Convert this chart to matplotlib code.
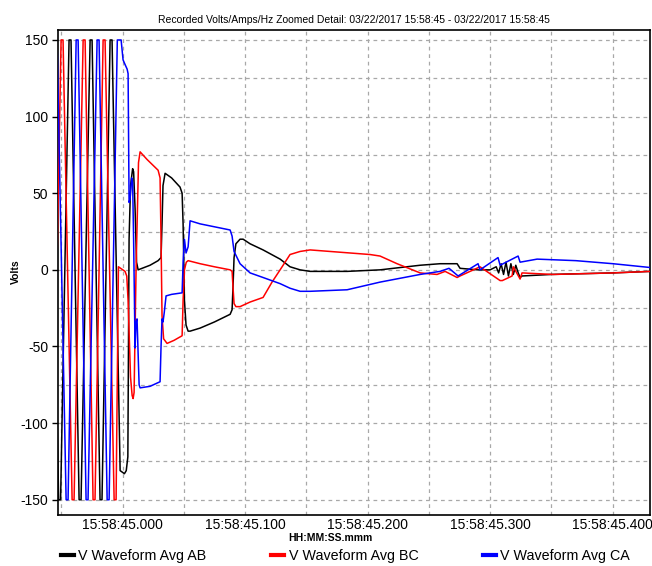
import numpy as np
import matplotlib.pyplot as plt
from matplotlib.lines import Line2D
from matplotlib.ticker import MultipleLocator

# =========================
# Data (time in ms after 15:58:45.000, volts)
# =========================
title = "Recorded Volts/Amps/Hz Zoomed Detail: 03/22/2017 15:58:45 - 03/22/2017 15:58:45"
series_names = ["V Waveform Avg AB", "V Waveform Avg BC", "V Waveform Avg CA"]
tick_ms = [0, 100, 200, 300, 400]
tick_labels = ["15:58:45.000", "15:58:45.100", "15:58:45.200", "15:58:45.300", "15:58:45.400"]

t_ab = [-60.6, -59.4, -52.2, -50.6, -43.7, -42.1, -35.5, -33.9, -26.5, -24.9,
        -18.4, -16.8, -10.2, -8.6, -2.0, 1.5, 3.0, 4.3, 5.3, 6.5, 8.2, 9.0,
        10.2, 11.4, 12.7, 14.3, 22.4, 29.0, 31.4, 32.2, 33.0, 34.7, 40.0, 46.9,
        48.6, 49.4, 50.5, 51.8, 53.5, 55.1, 63.3, 75.0, 87.8, 89.4, 90.2, 91.0,
        92.5, 95.9, 98.4, 104.1, 114.7, 128.6, 136.7, 144.9, 153.1, 183.3, 210.2,
        242.9, 259.2, 273.1, 275.5, 290.0, 300.0, 305.0, 307.0, 309.0, 311.0,
        313.0, 315.0, 317.0, 319.0, 321.0, 323.0, 324.5, 326.1, 350.0, 400.0, 431.0]
v_ab = [150, 150, -150, -150, 150, 150, -150, -150, 150, 150,
        -150, -150, 150, 150, -131, -133, -131, -122, 20, 55, 66, 64,
        40, 5, 0, 0.5, 3, 6, 8, 30, 55, 63, 60, 54,
        50, 30, -20, -36, -40, -40, -38, -34, -29, -26, -10, 8,
        17, 20, 20, 17, 13, 7, 2, 0, -1, -1, 0,
        3, 4, 4, 1, 0, 0, 2, -2, 4, -3,
        5, -4, 4, -3, 3, -2, -5, -4, -3, -2, -1]

t_bc = [-58.7, -57.1, -50.2, -48.6, -41.2, -39.6, -32.2, -30.6, -24.1, -22.5,
        -15.9, -14.3, -6.9, -5.3, -3.4, 2.0, 3.4, 4.5, 6.5, 7.8, 8.6, 9.4,
        11.0, 13.0, 14.3, 20.0, 29.0, 30.6, 31.4, 32.2, 33.5, 36.3, 42.0, 48.6,
        49.4, 50.5, 52.0, 53.5, 63.3, 75.0, 87.8, 89.4, 90.2, 91.0, 92.5, 95.9,
        104.1, 114.7, 122.0, 128.6, 136.7, 144.9, 153.1, 169.4, 202.0, 210.2,
        224.1, 242.9, 256.7, 263.3, 273.1, 275.5, 291.8, 308.2, 310.0, 318.0,
        319.0, 324.5, 326.1, 351.4, 400.4, 431.0]
v_bc = [-150, -150, 150, 150, -150, -150, 150, 150, -150, -150,
        150, 150, -150, -150, 2, -1, -4, -20, -70, -82, -84, -80,
        0, 70, 77, 72, 65, 60, 20, -30, -45, -48, -46, -43,
        -20, 0, 5, 6, 4, 2, 0, -1, -12, -22, -24, -24,
        -21, -18, -8, 0, 10, 12, 13, 12, 10, 9,
        4, -2, -3, -1, -5, -4, 2, -7, -7, -4,
        2, -6, -2, -3, -2, -1]

t_ca = [-55.1, -53.5, -46.1, -44.5, -37.9, -36.3, -29.8, -28.2, -20.8, -19.2,
        -12.6, -11.0, -4.3, -1.2, 0.4, 2.0, 3.7, 4.5, 5.3, 6.1, 7.4, 8.2, 9.0,
        10.2, 11.0, 11.8, 12.7, 13.5, 14.3, 22.4, 30.6, 31.4, 32.2, 33.0, 34.0,
        35.5, 40.0, 48.6, 49.4, 50.5, 51.8, 53.5, 55.1, 63.3, 87.8, 89.4, 91.0,
        95.9, 104.1, 114.7, 128.6, 136.7, 144.9, 153.1, 183.3, 210.2, 242.9,
        251.0, 259.2, 266.5, 273.9, 290.2, 291.8, 306.5, 308.2, 322.9, 324.5,
        338.4, 370.0, 400.4, 431.0]
v_ca = [150, 150, -150, -150, 150, 150, -150, -150, 150, 150,
        -150, -150, 150, 150, 137, 134, 131, 128, 44, 46, 60, 57, 20,
        -51, -34, -32, -55, -75, -77, -76, -73, -50, -32, -34, -28,
        -17, -16, -15, 5, 20, 11, 15, 32, 30, 26, 22, 12,
        4, -2, -5, -9, -12, -14, -14, -13, -8, -3,
        -2, -1, 1, -4, 4, 0, 8, 3, 9, 5,
        7, 6, 4, 1.5]

colors = ["#000000", "#ff0000", "#0000ff"]

# =========================
# Plot
# =========================
plt.rcParams['font.family'] = ['Liberation Sans', 'DejaVu Sans']
plt.rcParams['axes.unicode_minus'] = False

fig = plt.figure(figsize=(6.52, 5.66), dpi=100)
ax = fig.add_axes([0.089, 0.090, 0.908, 0.857])

for t, v, c in zip([t_ab, t_bc, t_ca], [v_ab, v_bc, v_ca], colors):
    ax.plot(t, v, color=c, lw=1.1, zorder=3)

ax.set_xlim(-52.7, 430.6)
ax.set_ylim(-160, 156.5)

ax.set_xticks(tick_ms)
ax.set_xticklabels(tick_labels, fontsize=10)
ax.xaxis.set_minor_locator(MultipleLocator(50))
ax.set_yticks([150, 100, 50, 0, -50, -100, -150])
ax.yaxis.set_minor_locator(MultipleLocator(25))
ax.tick_params(axis='y', labelsize=10, length=4, width=1, pad=3)
ax.tick_params(axis='x', length=0, pad=2)
ax.tick_params(which='minor', length=0)

ax.grid(True, which='both', color='#a8a8a8', linestyle=(0, (3, 3)), lw=0.9, zorder=0)

for s in ax.spines.values():
    s.set_linewidth(1.2)

ax.set_title(title, fontsize=7.5, pad=5)

# Axis titles placed in figure pixels
fig.text(16 / 652, 1 - 272 / 566, "Volts", fontsize=7.5, fontweight='bold',
         rotation=90, ha='center', va='center')
fig.text(330 / 652, 1 - 538 / 566, "HH:MM:SS.mmm", fontsize=7.5, fontweight='bold',
         ha='center', va='center')

# Legend
handles = [Line2D([], [], color=c, lw=3) for c in colors]
fig.legend(handles, series_names, loc='center left', ncol=3, mode='expand',
           bbox_to_anchor=(0.094, 1 - 556 / 566, 0.872, 0.0), frameon=False,
           fontsize=10.3, handlelength=0.9, handletextpad=0.3, borderpad=0,
           borderaxespad=0)

fig.savefig("out.png", dpi=100)
